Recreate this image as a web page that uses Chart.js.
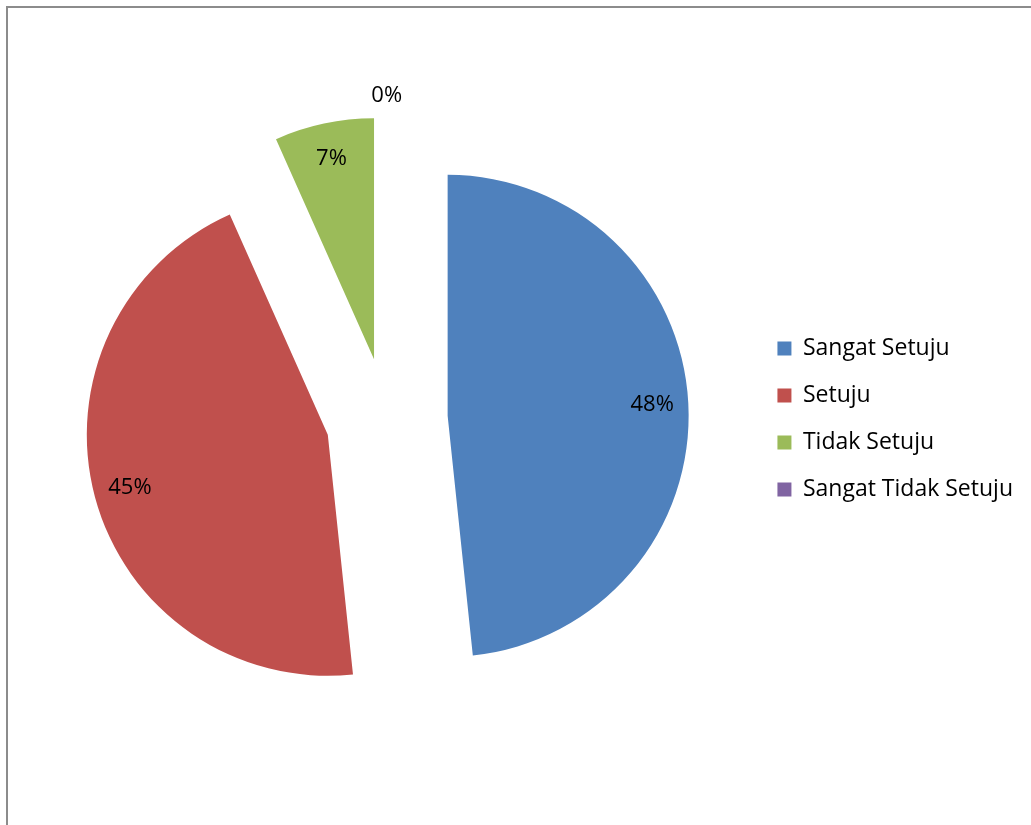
<!DOCTYPE html>
<html>
<head>
<meta charset="utf-8">
<script src="https://cdn.jsdelivr.net/npm/chart.js@4"></script>
<style>
  body { margin: 0; background: #fff; overflow: hidden; }
  #wrap { position: relative; width: 1031px; height: 825px; }
  #frame {
    position: absolute; left: 6px; top: 6px; width: 1100px; height: 900px;
    border-left: 2px solid #8c8c8c; border-top: 2px solid #8c8c8c;
  }
  #pie-chartID { position: absolute; left: 0; top: 0; }
</style>
</head>
<body>
<div id="wrap">
  <div id="frame"></div>
  <canvas id="pie-chartID" width="1031" height="825"></canvas>
</div>
<script>
// answer categories and number of respondents for each
let answers = ["Sangat Setuju", "Setuju", "Tidak Setuju", "Sangat Tidak Setuju"];
let respondents = [29, 27, 4, 0];

// slice colors
let sliceColors = ["#4f81bd", "#c0504d", "#9bbb59", "#8064a2"];

let fontFamily = "'Open Sans', sans-serif";
let fontSize = 23;
let explode = 61; // how far every slice is pulled out of the center

let canvas = document.querySelector("#pie-chartID");
let context = canvas.getContext("2d");

// draw each slice moved out along its middle angle
let explodePlugin = {
  id: "explodeSlices",
  beforeDatasetDraw(chart, args) {
    let ctx = chart.ctx;
    args.meta.data.forEach(function (arc) {
      let mid = (arc.startAngle + arc.endAngle) / 2;
      ctx.save();
      ctx.translate(Math.cos(mid) * explode, Math.sin(mid) * explode);
      arc.draw(ctx);
      ctx.restore();
    });
    return false;
  },
};

// percent labels inside the slices, empty slices get theirs outside
let labelPlugin = {
  id: "sliceLabels",
  afterDatasetsDraw(chart) {
    let ctx = chart.ctx;
    let meta = chart.getDatasetMeta(0);
    let values = chart.data.datasets[0].data;
    let total = values.reduce((a, b) => a + b, 0);
    ctx.save();
    ctx.font = "22px " + fontFamily;
    ctx.fillStyle = "#000";
    ctx.textAlign = "center";
    ctx.textBaseline = "middle";
    meta.data.forEach(function (arc, i) {
      let mid = (arc.startAngle + arc.endAngle) / 2;
      let cx = arc.x + Math.cos(mid) * explode;
      let cy = arc.y + Math.sin(mid) * explode;
      let dist = values[i] > 0 ? arc.outerRadius * 0.85 : arc.outerRadius + 21;
      let text = Math.round((values[i] / total) * 100) + "%";
      ctx.fillText(text, cx + Math.cos(mid) * dist, cy + Math.sin(mid) * dist);
    });
    ctx.restore();
  },
};

let pieChart = new Chart(context, {
  type: "pie",
  data: {
    labels: answers,
    datasets: [
      {
        data: respondents,
        backgroundColor: sliceColors,
        borderWidth: 0,
        hoverOffset: 0,
        offset: 0,
      },
    ],
  },
  options: {
    responsive: false,
    animation: false,
    radius: 241,
    layout: { padding: { left: 20, right: 8, top: 13, bottom: 0 } },
    plugins: {
      tooltip: { enabled: false },
      legend: {
        position: "right",
        labels: {
          boxWidth: 14,
          boxHeight: 14,
          padding: 24,
          color: "#000",
          font: { family: fontFamily, size: fontSize },
        },
      },
    },
  },
  plugins: [explodePlugin, labelPlugin],
});
</script>
</body>
</html>
